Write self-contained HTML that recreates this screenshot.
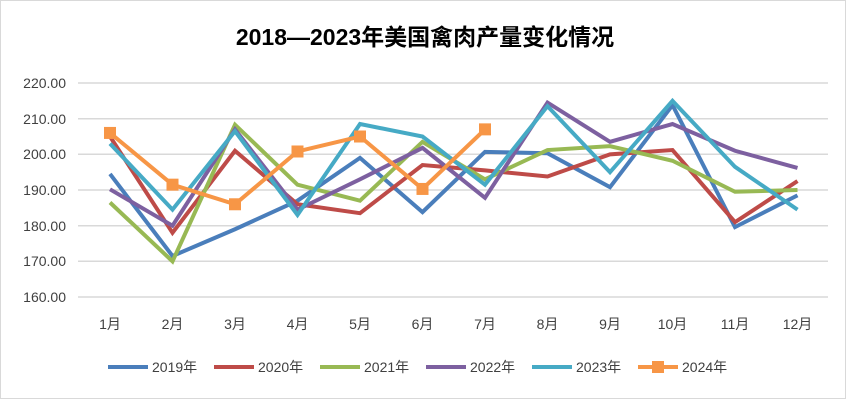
<!DOCTYPE html>
<html><head><meta charset="utf-8"><style>
html,body{margin:0;padding:0;background:#fff}
svg{display:block}
text{font-family:"Liberation Sans","Noto Sans CJK SC",sans-serif}
</style></head><body>
<svg width="851" height="400" viewBox="0 0 851 400" xmlns="http://www.w3.org/2000/svg">
<rect x="0.5" y="0.5" width="845" height="398" fill="#fff" stroke="#d9d9d9"/>
<text x="425" y="45" text-anchor="middle" font-size="23" font-weight="bold" fill="#000">2018—2023年美国禽肉产量变化情况</text>
<g stroke="#d9d9d9" stroke-width="1.5">
<line x1="78" x2="828" y1="83" y2="83"/><line x1="78" x2="828" y1="118.7" y2="118.7"/>
<line x1="78" x2="828" y1="154.3" y2="154.3"/><line x1="78" x2="828" y1="190" y2="190"/>
<line x1="78" x2="828" y1="225.7" y2="225.7"/><line x1="78" x2="828" y1="261.3" y2="261.3"/>
<line x1="78" x2="828" y1="297" y2="297"/>
</g>
<g font-size="14" fill="#404040" text-anchor="end">
<text x="66" y="88">220.00</text><text x="66" y="124">210.00</text><text x="66" y="159">200.00</text>
<text x="66" y="195">190.00</text><text x="66" y="231">180.00</text><text x="66" y="266">170.00</text><text x="66" y="302">160.00</text>
</g>
<g font-size="14" fill="#404040" text-anchor="middle" id="xl"></g>
<g id="series" fill="none" stroke-width="4" stroke-linejoin="miter"></g>
<g id="legend" font-size="14" fill="#404040"></g>
</svg>
<script>
var ns="http://www.w3.org/2000/svg";
function X(i){return 110+i*62.5}
function Y(v){return 83+(220-v)*3.567}
var xl=document.getElementById('xl');
for(var i=0;i<12;i++){var t=document.createElementNS(ns,'text');t.setAttribute('x',X(i));t.setAttribute('y',329);t.textContent=(i+1)+'月';xl.appendChild(t);}
var S=[
["2019年","#4a7ebb",[194.5,171.5,179,187,199,183.8,200.7,200.3,190.8,213.8,179.6,188.5]],
["2020年","#be4b48",[205,178,201,186,183.5,197,195.5,193.8,200,201.2,181,192.5]],
["2021年","#98b954",[186.5,170,208.3,191.5,187,203.5,193,201.2,202.3,198.2,189.5,190]],
["2022年","#7d60a0",[190.2,180,207,184.5,193,201.8,187.8,214.5,203.5,208.5,201,196.2]],
["2023年","#46aac5",[203,184.5,206.5,183,208.5,205,191.5,213.5,195,215,196.5,184.5]],
["2024年","#f79646",[206,191.5,186,200.8,205,190.3,207]]
];
var g=document.getElementById('series'),lg=document.getElementById('legend');
var lx=[108,214,320,426,532,638];
S.forEach(function(s,k){
 var p=document.createElementNS(ns,'polyline');
 p.setAttribute('points',s[2].map(function(v,i){return X(i)+','+Y(v)}).join(' '));
 p.setAttribute('stroke',s[1]);g.appendChild(p);
 var l=document.createElementNS(ns,'line');l.setAttribute('x1',lx[k]);l.setAttribute('x2',lx[k]+40);l.setAttribute('y1',367);l.setAttribute('y2',367);l.setAttribute('stroke',s[1]);l.setAttribute('stroke-width',4);lg.appendChild(l);
 var t=document.createElementNS(ns,'text');t.setAttribute('x',lx[k]+44);t.setAttribute('y',372);t.textContent=s[0];lg.appendChild(t);
 if(k==5){
  s[2].forEach(function(v,i){var r=document.createElementNS(ns,'rect');r.setAttribute('x',X(i)-6);r.setAttribute('y',Y(v)-6);r.setAttribute('width',12);r.setAttribute('height',12);r.setAttribute('fill',s[1]);g.appendChild(r);});
  var r=document.createElementNS(ns,'rect');r.setAttribute('x',lx[k]+14);r.setAttribute('y',361);r.setAttribute('width',12);r.setAttribute('height',12);r.setAttribute('fill',s[1]);lg.appendChild(r);
 }
});
</script>
</body></html>
